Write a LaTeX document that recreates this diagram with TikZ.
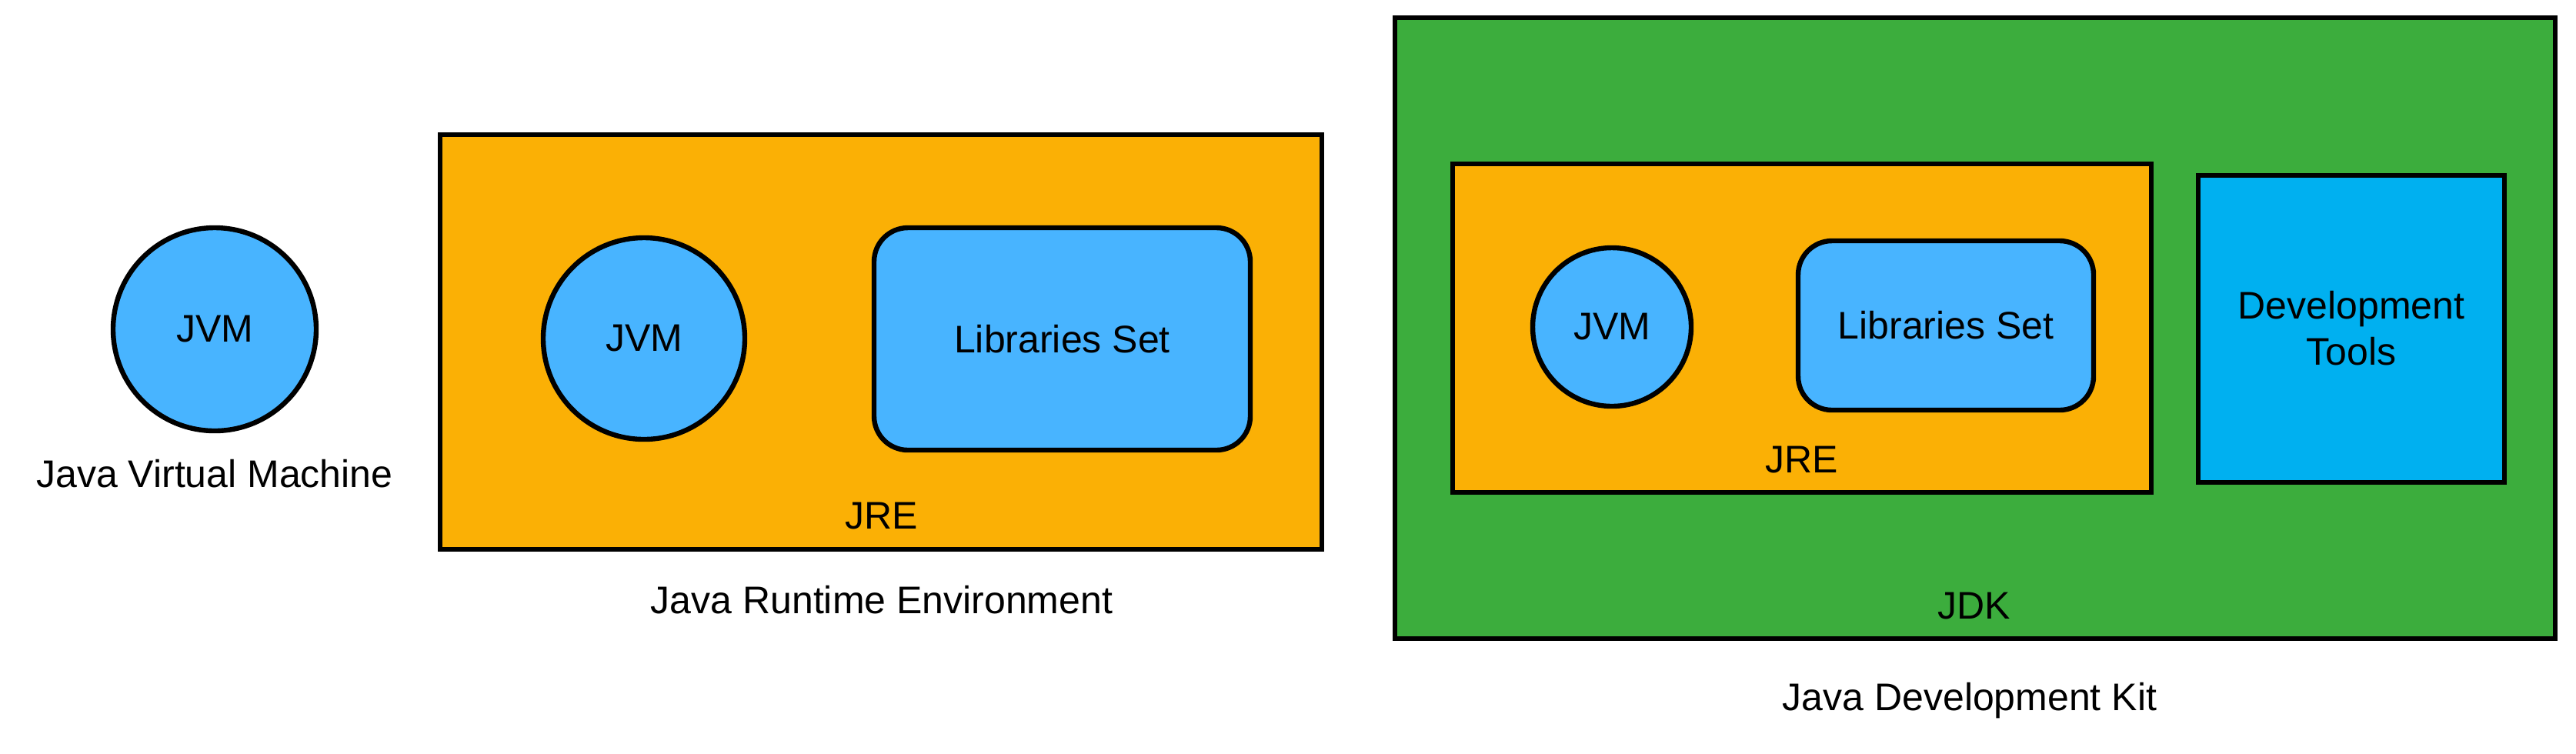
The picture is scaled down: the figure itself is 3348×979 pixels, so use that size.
\documentclass[tikz,border=0pt]{standalone}
\usepackage{fontspec}
\setmainfont{Liberation Sans}
\usetikzlibrary{fit}
\definecolor{jblue}{RGB}{72,180,255}
\definecolor{jorange}{RGB}{251,176,5}
\definecolor{jgreen}{RGB}{60,173,61}
\definecolor{jcyan}{RGB}{0,176,240}
\tikzset{
  box/.style={draw=black, line width=1.6pt, inner sep=0pt, rectangle},
  jvmcircle/.style={draw=black, line width=1.6pt, fill=jblue, circle, inner sep=0pt, font=\fontsize{12.5pt}{15pt}\selectfont},
  libbox/.style={draw=black, line width=1.6pt, fill=jblue, rounded corners=11pt, inner sep=0pt, rectangle},
  lbl/.style={font=\fontsize{12.5pt}{15pt}\selectfont, inner sep=0pt, anchor=base}
}
\begin{document}
\begin{tikzpicture}[x=0.25pt,y=-0.25pt]
\useasboundingbox[fill=white] (0,0) rectangle (3348,979);
% standalone JVM
\node[jvmcircle, minimum size=264*0.25pt] (jvm1) at (279,428) {JVM};
\node[lbl] (jvm1lbl) at (279,633) {Java Virtual Machine};
% JRE
\node[box, fill=jorange, fit={(572,175) (1718,714)}] (jre) {};
\node[jvmcircle, minimum size=262*0.25pt] (jvm2) at (837,440) {JVM};
\node[libbox, fit={(1136,296) (1625,585)}] (lib2) {};
\node[lbl, anchor=center] (lib2t) at (lib2.center) {Libraries Set};
\node[lbl] (jre2t) at (1146,687) {JRE};
\node[lbl] (jre2lbl) at (1146,797) {Java Runtime Environment};
% JDK
\node[box, fill=jgreen, fit={(1813,23) (3321,830)}] (jdk) {};
\node[box, fill=jorange, fit={(1888,213) (2796,640)}] (jre3) {};
\node[jvmcircle, minimum size=206*0.25pt] (jvm3) at (2095,425) {JVM};
\node[libbox, fit={(2337,313) (2721,533)}] (lib3) {};
\node[lbl, anchor=center] (lib3t) at (lib3.center) {Libraries Set};
\node[lbl] (jre3t) at (2342,614) {JRE};
\node[box, fill=jcyan, fit={(2857,228) (3255,627)}] (tools) {};
\node[lbl, anchor=center, align=center] (toolst) at (3056,427) {Development\\Tools};
\node[lbl] (jdkt) at (2566,804) {JDK};
\node[lbl] (jdklbl) at (2560,923) {Java Development Kit};
\end{tikzpicture}
\end{document}
